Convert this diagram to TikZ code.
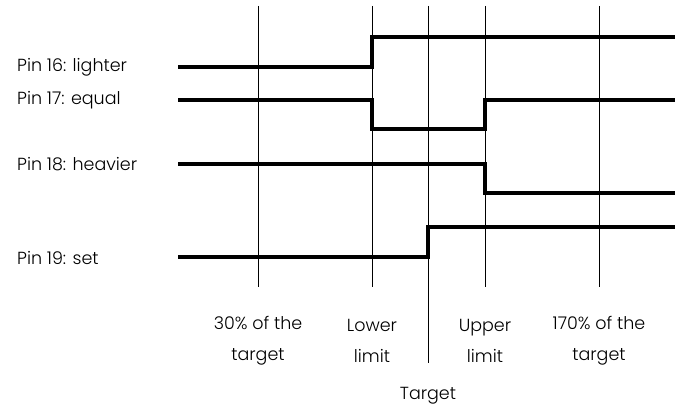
\documentclass[tikz,border=0pt]{standalone}
\usepackage{fontspec}
\setmainfont{Poppins Light}
\tikzset{
  gridline/.style={line width=1pt, black},
  signal/.style={line width=4.5pt, black, line join=miter},
  pinlabel/.style={anchor=west, inner sep=0pt},
  ticklabel/.style={align=center, inner sep=0pt, font=\fontsize{17.5}{31}\selectfont},
}
\begin{document}
\begin{tikzpicture}[x=1pt, y=-1pt, font=\fontsize{17.5}{31}\selectfont]
\useasboundingbox (0,0) rectangle (675,412);
\coordinate (g30) at (258,6);
\coordinate (glo) at (372,6);
\coordinate (gta) at (428,6);
\coordinate (gup) at (485,6);
\coordinate (g170) at (599,6);
\draw[gridline] (g30) -- (258,287);
\draw[gridline] (glo) -- (372,287);
\draw[gridline] (gta) -- (428,363);
\draw[gridline] (gup) -- (485,287);
\draw[gridline] (g170) -- (599,287);
\node[pinlabel] (p16) at (17,67) {Pin 16: lighter};
\node[pinlabel] (p17) at (17,100) {Pin 17: equal};
\node[pinlabel] (p18) at (17,164) {Pin 18: heavier};
\node[pinlabel] (p19) at (17,258) {Pin 19: set};
\draw[signal] (178,67) -- (372,67) -- (372,37) -- (675,37);
\draw[signal] (178,100) -- (372,100) -- (372,129) -- (485,129) -- (485,100) -- (675,100);
\draw[signal] (178,164) -- (485,164) -- (485,193) -- (675,193);
\draw[signal] (178,257) -- (428,257) -- (428,227) -- (675,227);
\node[ticklabel] (t30) at (258,341) {30\% of the\\target};
\node[ticklabel] (tlo) at (372,341) {Lower\\limit};
\node[ticklabel] (tup) at (485,341) {Upper\\limit};
\node[ticklabel] (t170) at (599,341) {170\% of the\\target};
\node[ticklabel] (tta) at (428,396) {Target};
\end{tikzpicture}
\end{document}
